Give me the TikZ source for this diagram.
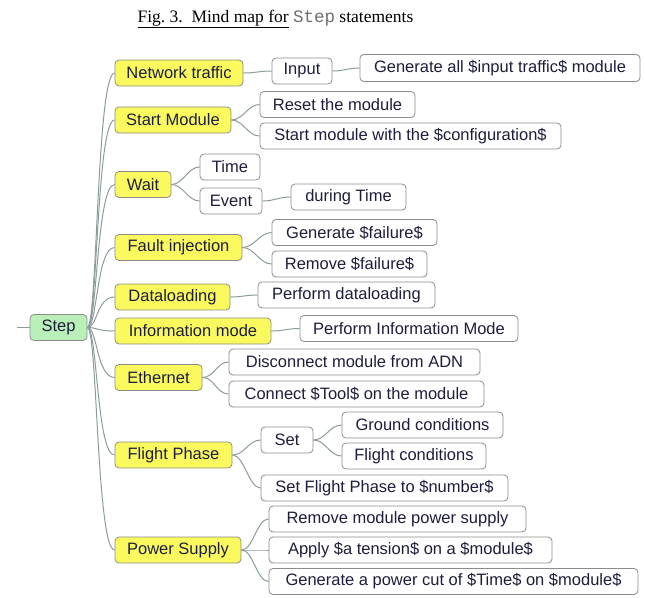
\documentclass[tikz,border=0pt]{standalone}
\usepackage{fontspec}
\setmainfont{Liberation Sans}
\newfontfamily\captionserif{Liberation Serif}
\newfontfamily\captionmono{Liberation Mono}
\definecolor{boxyellow}{RGB}{250,250,95}
\definecolor{boxgreen}{RGB}{185,240,185}
\definecolor{boxborder}{RGB}{140,140,140}
\definecolor{linegray}{RGB}{140,155,155}
\definecolor{txt}{RGB}{30,30,60}
\definecolor{monogray}{RGB}{110,110,110}
\begin{document}
\begin{tikzpicture}[x=1pt,y=-1pt,
  basebox/.style={draw=boxborder, line width=0.8pt, rounded corners=4pt,
    minimum height=26pt, inner sep=0pt, text=txt,
    font=\fontsize{16.5}{19}\selectfont},
  topic/.style={basebox, fill=boxyellow},
  rootbox/.style={basebox, fill=boxgreen},
  leaf/.style={basebox, fill=white},
  conn/.style={draw=linegray, line width=1pt},
  trunk/.style={conn, to path={.. controls +(10,0) and +(-18,0) .. (\tikztotarget)}},
  curv/.style={conn, to path={.. controls +(12,0) and +(-12,0) .. (\tikztotarget)}}
]
\useasboundingbox (0,0) rectangle (645,597);
\node[font=\captionserif\fontsize{17.5}{20}\selectfont, anchor=base west] (title) at (134,22)
  {\underline{Fig.~3.\ \ Mind map for} {\captionmono\color{monogray}Step} statements};

\node[rootbox, minimum width=57pt] (step) at (58.5,327.5) {Step};
\coordinate (lstub) at (17,327.5);

\node[topic, minimum width=128pt] (nt) at (179,73) {Network traffic};
\node[leaf, minimum width=60pt] (inp) at (302,71) {Input};
\node[leaf, minimum width=280pt, minimum height=27pt] (gen1) at (500,68) {Generate all \$input traffic\$ module};

\node[topic, minimum width=116pt] (sm) at (173,120) {Start Module};
\node[leaf, minimum width=155pt] (reset) at (337.5,104.5) {Reset the module};
\node[leaf, minimum width=301pt] (startwith) at (410.5,136) {Start module with the \$configuration\$};

\node[topic, minimum width=56pt] (wait) at (143,184.5) {Wait};
\node[leaf, minimum width=60pt] (time) at (230,167) {Time};
\node[leaf, minimum width=62pt] (event) at (231,201) {Event};
\node[leaf, minimum width=115pt] (during) at (348.5,197) {during Time};

\node[topic, minimum width=127pt] (fi) at (178.5,247.5) {Fault injection};
\node[leaf, minimum width=165pt] (genf) at (354.5,232.5) {Generate \$failure\$};
\node[leaf, minimum width=155pt] (remf) at (349.5,264) {Remove \$failure\$};

\node[topic, minimum width=115pt] (dl) at (172.5,297) {Dataloading};
\node[leaf, minimum width=177pt] (pdl) at (346.5,295) {Perform dataloading};

\node[topic, minimum width=156pt] (im) at (193,331) {Information mode};
\node[leaf, minimum width=218pt] (pim) at (409,328.5) {Perform Information Mode};

\node[topic, minimum width=87pt] (eth) at (158.5,377.5) {Ethernet};
\node[leaf, minimum width=251pt] (disc) at (354.5,362) {Disconnect module from ADN};
\node[leaf, minimum width=255pt] (connt) at (356.5,394) {Connect \$Tool\$ on the module};

\node[topic, minimum width=117pt] (fp) at (173.5,455) {Flight Phase};
\node[leaf, minimum width=52pt] (set) at (287,440) {Set};
\node[leaf, minimum width=161pt] (ground) at (422.5,425) {Ground conditions};
\node[leaf, minimum width=144pt] (flightc) at (414,456) {Flight conditions};
\node[leaf, minimum width=247pt] (setfp) at (384.5,488) {Set Flight Phase to \$number\$};

\node[topic, minimum width=126pt] (ps) at (178,550) {Power Supply};
\node[leaf, minimum width=257pt] (rmp) at (397.5,519) {Remove module power supply};
\node[leaf, minimum width=283pt] (apply) at (410.5,550) {Apply \$a tension\$ on a \$module\$};
\node[leaf, minimum width=369pt] (gpc) at (453.5,581.5) {Generate a power cut of \$Time\$ on \$module\$};

\draw[conn] (lstub) -- (step.west);
\foreach \t in {nt,sm,wait,fi,dl,im,eth,fp,ps}
  \draw[trunk] (step.east) to (\t.west);

\draw[curv] (nt.east) to (inp.west);
\draw[curv] (inp.east) to (gen1.west);
\draw[curv] (sm.east) to (reset.west);
\draw[curv] (sm.east) to (startwith.west);
\draw[curv] (wait.east) to (time.west);
\draw[curv] (wait.east) to (event.west);
\draw[curv] (event.east) to (during.west);
\draw[curv] (fi.east) to (genf.west);
\draw[curv] (fi.east) to (remf.west);
\draw[curv] (dl.east) to (pdl.west);
\draw[curv] (im.east) to (pim.west);
\draw[curv] (eth.east) to (disc.west);
\draw[curv] (eth.east) to (connt.west);
\draw[curv] (fp.east) to (set.west);
\draw[curv] (fp.east) to (setfp.west);
\draw[curv] (set.east) to (ground.west);
\draw[curv] (set.east) to (flightc.west);
\draw[curv] (ps.east) to (rmp.west);
\draw[curv] (ps.east) to (apply.west);
\draw[curv] (ps.east) to (gpc.west);
\end{tikzpicture}
\end{document}
